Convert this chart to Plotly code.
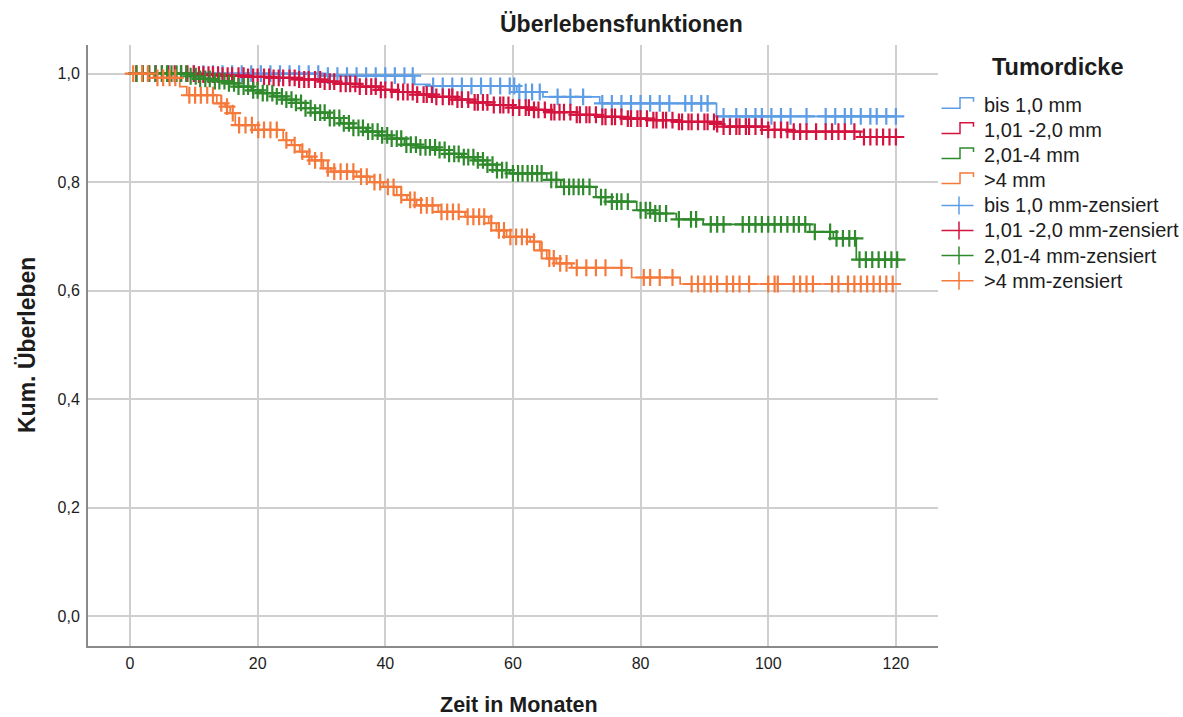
import numpy as np
import plotly.graph_objects as go

# ---- Kaplan-Meier estimates per tumour-thickness group ----
groups = ["bis 1,0 mm", "1,01 -2,0 mm", "2,01-4 mm", ">4 mm"]
colors = ["#5c9de6", "#d5133f", "#2f8a2c", "#f5793a"]

# step times (months) and survival after each step
blue_t = [0, 30, 44.6, 47, 60.6, 64.7, 73.6, 91.9]
blue_s = [1.0, 0.996, 0.980, 0.977, 0.966, 0.957, 0.945, 0.921]
blue_c = [2, 4, 6, 8, 10, 11.5, 13, 14.5, 16, 17.5, 19, 20.5, 22, 23.5, 25, 26.5,
          28, 29.5, 31, 32.5, 34, 35.5, 37, 38.5, 40, 41.5, 43, 44.3, 47.5, 49,
          50.5, 52, 53.5, 55, 56.5, 58, 59.5, 60.2, 61, 62, 63, 64.2, 67, 69, 71,
          74, 75.5, 77, 78.5, 80, 81.5, 83, 84.5, 87, 88, 89.5, 90.5, 93, 95, 96.5,
          98, 99, 100.5, 102, 103.5, 106, 109, 110.5, 112, 113, 114.5, 116, 117,
          118.5, 120]

red_t = [0, 10.5, 14, 18, 22, 26, 30, 33, 36, 39, 42, 45, 48, 51, 54, 57, 60, 63,
         66, 70, 74, 78, 82, 86, 92, 93, 100, 104, 114.4]
red_s = [1.0, 0.998, 0.996, 0.994, 0.992, 0.989, 0.985, 0.981, 0.976, 0.970,
         0.966, 0.961, 0.957, 0.952, 0.947, 0.942, 0.937, 0.933, 0.929, 0.924,
         0.920, 0.917, 0.914, 0.911, 0.907, 0.902, 0.896, 0.893, 0.883]
red_c = [1, 2, 3, 4, 5, 6, 7, 8, 9, 10, 10.8, 11.5, 12.3, 13, 13.8, 14.5, 15.3,
         16, 17, 17.8, 18.5, 19.3, 20, 21, 21.8, 22.5, 23.3, 24, 25, 25.8, 26.5,
         27.3, 28, 29, 29.8, 30.5, 31.3, 32, 33, 33.8, 34.5, 35.3, 36, 37, 37.8,
         38.5, 39.3, 40, 41, 42, 42.8, 43.5, 44.3, 45, 46, 46.5, 47.3, 48, 49,
         50, 50.5, 51.3, 52, 53, 54, 54.5, 55.3, 56, 57, 58, 58.5, 59.3, 60, 61,
         62, 62.5, 63.3, 64, 65, 66, 66.5, 67.3, 68, 69, 70, 70.5, 71.5, 72, 73,
         74, 74.5, 75.5, 76, 77, 78, 78.5, 79.5, 80, 81, 82, 82.5, 83.5, 84, 85,
         86, 86.5, 87.5, 88, 89, 90, 90.5, 91.5, 92, 93, 94, 95, 95.5, 96.5, 97,
         98, 99, 100, 101, 102, 103, 104, 105, 106, 107.5, 109, 110, 111, 112,
         113.5, 115, 116, 117, 118, 119, 120]

green_t = [0, 9.4, 11, 13, 15, 17, 19, 20.5, 22.5, 24.5, 26, 27.5, 29, 31, 33, 35,
           37, 39, 41, 43, 45, 48, 50, 52, 54, 56, 57.4, 59.5, 65.3, 67.5, 73,
           75.5, 79.4, 82, 85.6, 89.8, 106.5, 110.2, 113.8]
green_s = [1.0, 0.995, 0.990, 0.986, 0.982, 0.976, 0.969, 0.964, 0.958, 0.952,
           0.946, 0.936, 0.928, 0.918, 0.908, 0.900, 0.893, 0.886, 0.880, 0.869,
           0.864, 0.859, 0.852, 0.846, 0.840, 0.832, 0.822, 0.816, 0.804, 0.791,
           0.772, 0.764, 0.748, 0.742, 0.731, 0.722, 0.708, 0.696, 0.657]
green_c = [1, 2, 3, 4, 5, 5.8, 6.5, 7.3, 8, 8.8, 9.5, 10.3, 11, 11.8, 12.5, 13.3,
           14, 14.8, 15.5, 16.3, 17, 17.8, 18.5, 19.3, 20, 20.8, 21.5, 22.3, 23,
           23.8, 24.5, 25.3, 26, 26.8, 27.5, 28.3, 29, 29.8, 30.5, 31.3, 32, 32.8,
           33.5, 34.3, 35, 35.8, 36.5, 37.3, 38, 38.8, 39.5, 40.3, 41, 41.8, 42.5,
           43.3, 44, 44.8, 45.5, 46.3, 47, 47.8, 48.5, 49.3, 50, 50.8, 51.5, 52.3,
           53, 53.8, 54.5, 55.3, 56, 56.8, 57.5, 58.3, 59, 60, 60.8, 61.5, 62.3,
           63, 63.8, 64.5, 66, 66.8, 68, 68.8, 69.5, 70.3, 71, 72, 73.8, 74.5,
           75.5, 76.3, 77, 78, 80, 80.8, 81.5, 82.3, 83, 84, 86, 87.9, 88.7, 91,
           92, 93, 96, 97, 98, 99, 100, 101, 102, 103, 104, 104.8, 105.8, 107.3,
           109.7, 110.7, 111.7, 112.7, 113.6, 114.3, 115.3, 116.3, 117.3, 118.3,
           119.3, 120.2]

orange_t = [0, 3.7, 7.8, 8.9, 13.6, 14.9, 15.7, 16.5, 19.6, 24, 25.3, 26.6, 27.7,
            28.5, 30.3, 31.5, 35.5, 37.6, 39.7, 41.8, 43.4, 44.9, 48.3, 52.5, 56.2,
            57.4, 59, 62.7, 64.2, 65.3, 66.8, 69.2, 78.6, 86.2]
orange_s = [1.0, 0.992, 0.976, 0.960, 0.945, 0.939, 0.927, 0.905, 0.896, 0.877,
            0.868, 0.856, 0.847, 0.840, 0.825, 0.819, 0.810, 0.800, 0.791, 0.776,
            0.767, 0.757, 0.745, 0.736, 0.724, 0.711, 0.699, 0.690, 0.674, 0.659,
            0.650, 0.642, 0.624, 0.612]
orange_c = [0.5, 1.9, 2.8, 4.3, 5.2, 6.2, 7.1, 9.3, 10.2, 11.1, 12.1, 13, 14.3,
            15.2, 16.1, 17.1, 18.1, 19.1, 20.1, 21, 22, 23, 24.5, 25.8, 27, 28.1,
            29, 30, 31, 32, 33, 34, 35, 36.2, 37.1, 38.3, 39.2, 40.4, 41.3, 42.5,
            43.9, 44.6, 45.6, 46.5, 47.4, 48.8, 49.7, 50.6, 51.5, 52.9, 53.8, 54.7,
            55.5, 56.6, 57.8, 58.6, 59.6, 60.5, 61.4, 62.2, 63.3, 64.5, 65.7, 66.4,
            67.4, 68.4, 70, 71.5, 73, 74.5, 77, 80.5, 81.5, 83, 85, 88, 89, 90, 91,
            92, 93.5, 94.5, 95.5, 97, 100, 101, 101.5, 104, 105, 106, 107, 110,
            111, 112.5, 113.5, 114.5, 115.5, 116.5, 117.5, 118.5, 119.5]

series = [(blue_t, blue_s, blue_c), (red_t, red_s, red_c),
          (green_t, green_s, green_c), (orange_t, orange_s, orange_c)]

x_ticks = [0, 20, 40, 60, 80, 100, 120]
y_ticks = [0.0, 0.2, 0.4, 0.6, 0.8, 1.0]

FONT = "Liberation Sans, Arial, sans-serif"
TXT = "#1c1c1c"

fig = go.Figure()

# survival step lines
for (t, s, c), col in zip(series, colors):
    end = max(max(c), t[-1])
    xs = list(t) + [end]
    ys = list(s) + [s[-1]]
    fig.add_trace(go.Scatter(x=xs, y=ys, mode="lines", line_shape="hv",
                             line=dict(color=col, width=1.7),
                             showlegend=False, hoverinfo="skip"))

# censoring marks placed on the step curve
for (t, s, c), col in zip(series, colors):
    tt = np.asarray(t, dtype=float)
    ss = np.asarray(s, dtype=float)
    cc = np.asarray(c, dtype=float)
    idx = np.searchsorted(tt, cc, side="right") - 1
    fig.add_trace(go.Scatter(x=cc, y=ss[idx], mode="markers",
                             marker=dict(symbol="cross-thin", size=12,
                                         line=dict(color=col, width=2.2)),
                             showlegend=False, hoverinfo="skip"))

# ---- layout in pixel terms ----
W, H = 1183, 717
L, R, T, B = 88, 938, 45, 646


def px(x):
    return (x - L) / (R - L)


def py(y):
    return (B - y) / (B - T)


fig.update_layout(
    width=W, height=H,
    margin=dict(l=L, r=W - R, t=T, b=H - B, pad=0),
    paper_bgcolor="white", plot_bgcolor="white",
    separators=",.",
    font=dict(family=FONT, color=TXT),
    showlegend=False,
)
fig.update_xaxes(range=[-6.58, 126.6], tickvals=x_ticks, ticks="", showline=True,
                 linecolor="#8a8a8a", linewidth=2, mirror=False,
                 showgrid=True, gridcolor="#cfcfcf", gridwidth=1.5,
                 zeroline=False, tickfont=dict(size=16, color=TXT),
                 ticklabelstandoff=2)
fig.update_yaxes(range=[-0.0553, 1.0526], tickvals=y_ticks, tickformat=".1f",
                 ticks="", showline=True, linecolor="#8a8a8a", linewidth=2,
                 showgrid=True, gridcolor="#cfcfcf", gridwidth=1.5,
                 zeroline=False, tickfont=dict(size=16, color=TXT),
                 ticklabelstandoff=3)

annotations = [
    dict(text="<b>Überlebensfunktionen</b>", x=px(621), y=py(24), font=dict(size=23)),
    dict(text="<b>Zeit in Monaten</b>", x=px(519), y=py(705), font=dict(size=21.5)),
    dict(text="<b>Kum. Überleben</b>", x=px(27), y=py(345), textangle=-90,
         font=dict(size=23)),
    dict(text="<b>Tumordicke</b>", x=px(1057), y=py(67), font=dict(size=23.5)),
]

shapes = []
row0, dy = 105, 25.1
labels = groups + [g + "-zensiert" for g in groups]
for i, lab in enumerate(labels):
    yc = row0 + dy * i
    col = colors[i % 4]
    annotations.append(dict(text=lab, x=px(982), y=py(yc), xanchor="left",
                            font=dict(size=20)))
    if i < 4:
        path = "M {:.5f},{:.5f} L {:.5f},{:.5f} L {:.5f},{:.5f} L {:.5f},{:.5f} L {:.5f},{:.5f}".format(
            px(941.5), py(yc + 3.3), px(960), py(yc + 3.3), px(960), py(yc - 7.3),
            px(973.5), py(yc - 7.3), px(973.5), py(yc - 3.3))
        shapes.append(dict(type="path", path=path, xref="paper", yref="paper",
                           line=dict(color=col, width=1.5)))
    else:
        shapes.append(dict(type="line", xref="paper", yref="paper",
                           x0=px(941.5), x1=px(973.5), y0=py(yc), y1=py(yc),
                           line=dict(color=col, width=1.5)))
        shapes.append(dict(type="line", xref="paper", yref="paper",
                           x0=px(959), x1=px(959), y0=py(yc - 9), y1=py(yc + 9),
                           line=dict(color=col, width=1.5)))

for a in annotations:
    a.setdefault("xref", "paper")
    a.setdefault("yref", "paper")
    a.setdefault("xanchor", "center")
    a.setdefault("yanchor", "middle")
    a["showarrow"] = False
    a["font"] = dict(family=FONT, color=TXT, **a["font"])

fig.update_layout(annotations=annotations, shapes=shapes)

fig.write_html("out.html")
